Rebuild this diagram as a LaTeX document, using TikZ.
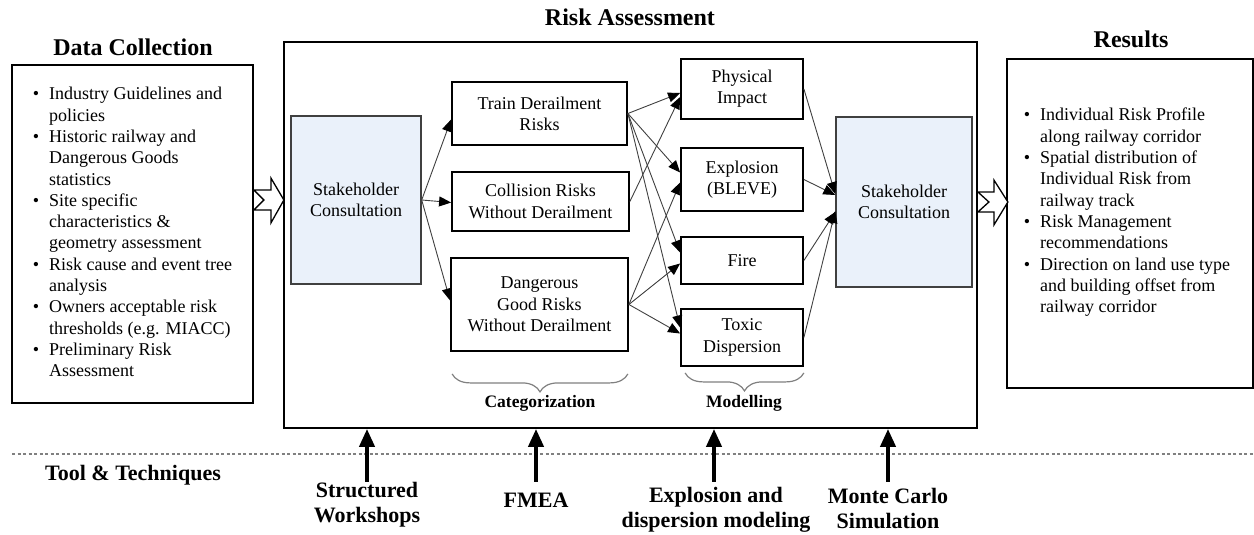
\documentclass[tikz,border=0pt]{standalone}
\usepackage{fontspec}
\setmainfont{Liberation Serif}
\usepackage{tikz}
\usetikzlibrary{arrows.meta,positioning,calc,decorations.pathreplacing}

\definecolor{shfill}{HTML}{EAF1FA}
\definecolor{linkgray}{HTML}{404040}

\begin{document}
\begin{tikzpicture}[x=1pt, y=-1pt,
    every node/.style={font=\fontsize{18}{21.3}\selectfont, inner sep=0pt},
    box/.style={draw, line width=1.8pt, align=center},
    shbox/.style={draw=linkgray, line width=1.4pt, fill=shfill, align=center, minimum width=130pt, minimum height=168pt},
    ttl/.style={font=\bfseries\fontsize{24}{28}\selectfont},
    bl/.style={font=\bfseries\fontsize{22}{25.5}\selectfont, align=center},
    sl/.style={font=\bfseries\fontsize{17.5}{20}\selectfont},
    link/.style={draw=linkgray, line width=0.9pt, -{Triangle[length=12pt,width=10pt,color=black]}},
    upar/.style={line width=4pt, -{Triangle[length=18pt,width=15pt]}},
    brace/.style={draw=gray, line width=1.2pt, decorate, decoration={brace, mirror, amplitude=18pt}},
    hollow/.style={draw, line width=1.3pt, fill=white, line join=miter}]
    \useasboundingbox (0,0) rectangle (1254,535);

    % titles
    \node[ttl] (dct) at (133,47) {Data Collection};
    \node[ttl] (rat) at (630,17) {Risk Assessment};
    \node[ttl] (rst) at (1131,39) {Results};

    % data collection
    \node[box, minimum width=241pt, minimum height=338pt] (dc) at (132.5,234) {%
        \begin{tabular}{@{}l@{\hspace{10pt}}l@{}}
        • & Industry Guidelines and\\
          & policies\\
        • & Historic railway and\\
          & Dangerous Goods\\
          & statistics\\
        • & Site specific\\
          & characteristics \&\\
          & geometry assessment\\
        • & Risk cause and event tree\\
          & analysis\\
        • & Owners acceptable risk\\
          & thresholds (e.g. MIACC)\\
        • & Preliminary Risk\\
          & Assessment
        \end{tabular}};

    % risk assessment
    \node[box, minimum width=693pt, minimum height=386pt] (ra) at (630.5,235) {};
    \node[shbox] (shl) at (356,200) {Stakeholder\\Consultation};
    \node[box, minimum width=175pt, minimum height=63pt] (trd) at (539.5,113.5) {Train Derailment\\Risks};
    \node[box, minimum width=177pt, minimum height=59pt] (crw) at (540.5,201.5) {Collision Risks\\Without Derailment};
    \node[box, minimum width=177pt, minimum height=93pt] (dgr) at (539.5,304.5) {Dangerous\\Good Risks\\Without Derailment};
    \node[box, minimum width=122pt, minimum height=60pt] (phy) at (742,89) {Physical\\Impact};
    \node[box, minimum width=122pt, minimum height=63pt] (exp) at (742,179.5) {Explosion\\(BLEVE)};
    \node[box, minimum width=122pt, minimum height=47pt] (fir) at (742,260.5) {Fire};
    \node[box, minimum width=122pt, minimum height=57pt] (tox) at (742,337.5) {Toxic\\Dispersion};
    \node[shbox, minimum width=136pt, minimum height=170pt] (shr) at (904,202) {Stakeholder\\Consultation};

    \draw[link] (shl.east) -- ($(trd.west)+(0,6)$);
    \draw[link] (shl.east) -- ($(crw.west)+(0,1)$);
    \draw[link] (shl.east) -- ($(dgr.west)+(0,-4)$);

    \draw[link] (trd.east) -- ($(phy.west)+(0,4)$);
    \draw[link] (trd.east) -- ($(exp.west)+(0,-7)$);
    \draw[link] (trd.east) -- ($(fir.west)+(0,-8)$);
    \draw[link] (trd.east) -- ($(tox.west)+(0,-10)$);
    \draw[link] (crw.east) -- ($(phy.west)+(0,8)$);
    \draw[link] (dgr.east) -- ($(exp.west)+(0,3)$);
    \draw[link] (dgr.east) -- ($(fir.west)+(0,3)$);
    \draw[link] (dgr.east) -- ($(tox.west)+(0,-4)$);

    \draw[link] (phy.east) -- ($(shr.west)+(0,-8)$);
    \draw[link] (exp.east) -- ($(shr.west)+(0,-7)$);
    \draw[link] (fir.east) -- ($(shr.west)+(0,10)$);
    \draw[link] (tox.east) -- ($(shr.west)+(0,9)$);

    \draw[brace] ($(dgr.south west)+(2,22)$) -- ($(dgr.south east)+(-1,22)$);
    \draw[brace] ($(tox.south west)+(5,6)$) -- ($(tox.south east)+(0,6)$);
    \node[sl] (cat) at (540,403) {Categorization};
    \node[sl] (mod) at (744,403) {Modelling};

    % results
    \node[box, minimum width=246pt, minimum height=329pt] (res) at (1130,223.5) {};
    \node (resl) at (1127,212.5) {%
        \begin{tabular}{@{}l@{\hspace{10pt}}l@{}}
        • & Individual Risk Profile\\
          & along railway corridor\\
        • & Spatial distribution of\\
          & Individual Risk from\\
          & railway track\\
        • & Risk Management\\
          & recommendations\\
        • & Direction on land use type\\
          & and building offset from\\
          & railway corridor
        \end{tabular}};

    % hollow arrows
    \draw[hollow] (dc.east |- shl.west) ++(0,-10) -- ++(17,0) -- ++(0,-12) -- ++(13,22) -- ++(-13,23) -- ++(0,-13) -- ++(-17,0) -- ++(10,-10) -- cycle;
    \draw[hollow] (ra.east |- shr.east) ++(0,-10) -- ++(16,0) -- ++(0,-12) -- ++(14,22) -- ++(-14,23) -- ++(0,-13) -- ++(-16,0) -- ++(11,-10) -- cycle;

    % tools
    \draw[gray, line width=1.3pt, dash pattern=on 3pt off 2.5pt] (12,454) -- (1254,454);
    \node[bl] (tt) at (133,475) {Tool \& Techniques};
    \node[bl] (sw) at (367,504.5) {Structured\\Workshops};
    \node[bl] (fmea) at (536,500) {FMEA};
    \node[bl] (edm) at (716,510) {Explosion and\\dispersion modeling};
    \node[bl] (mcs) at (888,508.5) {Monte Carlo\\Simulation};

    \draw[upar] (sw.north) -- (sw.north |- ra.south);
    \draw[upar] (fmea.north |- sw.north) -- (fmea.north |- ra.south);
    \draw[upar] ([xshift=-2pt]edm.north |- sw.north) -- ([xshift=-2pt]edm.north |- ra.south);
    \draw[upar] (mcs.north |- sw.north) -- (mcs.north |- ra.south);
\end{tikzpicture}
\end{document}
